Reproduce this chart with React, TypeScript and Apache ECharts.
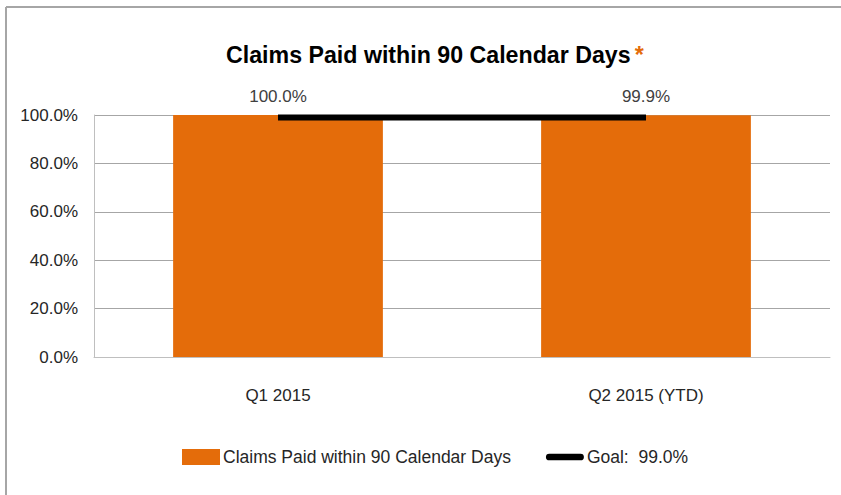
import React, { useEffect, useRef } from "react";
import * as echarts from "echarts";

const categories = ["Q1 2015", "Q2 2015 (YTD)"];
const claimsValues = [100.0, 99.9];
const goalValues = [99.0, 99.0];
const yTicks = [0, 20, 40, 60, 80, 100];

const FONT = "'Liberation Sans', Arial, sans-serif";

export default function App() {
  const ref = useRef<HTMLDivElement>(null);
  useEffect(() => {
    if (!ref.current) return;
    const chart = echarts.init(ref.current, null, { renderer: "svg" });
    chart.setOption({
      animation: false,
      backgroundColor: "#ffffff",
      textStyle: { fontFamily: FONT },
      title: {
        text: "{a|Claims Paid within 90 Calendar Days}{b|*}",
        left: 221,
        top: 38,
        textStyle: {
          rich: {
            a: { fontFamily: FONT, fontSize: 23.2, fontWeight: "bold", color: "#000000" },
            b: { fontFamily: FONT, fontSize: 23.2, fontWeight: "bold", color: "#e46c0a", verticalAlign: "top", padding: [0, 0, 0, 4] },
          },
        },
      },
      grid: { left: 94, right: 11, top: 115, bottom: 138, containLabel: false },
      xAxis: {
        type: "category",
        data: categories,
        axisLine: { lineStyle: { color: "#bfbfbf", width: 1 } },
        axisTick: { show: false },
        axisLabel: { color: "#262626", fontSize: 17, fontFamily: FONT, margin: 30 },
      },
      yAxis: {
        type: "value",
        min: yTicks[0],
        max: yTicks[yTicks.length - 1],
        interval: 20,
        axisLine: { show: true, lineStyle: { color: "#bfbfbf" } },
        axisTick: { show: false },
        splitLine: { lineStyle: { color: "#a6a6a6", width: 1 } },
        axisLabel: {
          color: "#262626",
          fontSize: 17,
          fontFamily: FONT,
          margin: 16,
          formatter: (v: number) => v.toFixed(1) + "%",
        },
      },
      legend: {
        left: 177,
        top: 443,
        itemWidth: 38,
        itemHeight: 16,
        itemGap: 35,
        textStyle: { color: "#262626", fontSize: 17.5, fontFamily: FONT, padding: [0, 0, 0, -2] },
        data: [
          { name: "Claims Paid within 90 Calendar Days", icon: "rect" },
          { name: "Goal:  99.0%", icon: "path://M3,0 H31 A3,3 0 0 1 31,6 H3 A3,3 0 0 1 3,0 Z" },
        ],
      },
      series: [
        {
          name: "Claims Paid within 90 Calendar Days",
          type: "bar",
          data: claimsValues,
          barWidth: "57%",
          itemStyle: { color: "#e46c0a" },
          label: {
            show: true,
            position: "top",
            distance: 10,
            color: "#404040",
            fontSize: 17,
            fontFamily: FONT,
            formatter: (p: any) => Number(p.value).toFixed(1) + "%",
          },
        },
        {
          name: "Goal:  99.0%",
          type: "line",
          data: goalValues,
          symbol: "none",
          lineStyle: { color: "#000000", width: 6 },
          itemStyle: { color: "#000000" },
          z: 5,
        },
      ],
      graphic: [
        { type: "line", shape: { x1: 6, y1: 7, x2: 841, y2: 7 }, style: { stroke: "#a6a6a6", lineWidth: 2 } },
        { type: "line", shape: { x1: 6, y1: 7, x2: 6, y2: 495 }, style: { stroke: "#a6a6a6", lineWidth: 2 } },
      ],
    });
    return () => chart.dispose();
  }, []);
  return (
    <div
      ref={ref}
      style={{ position: "absolute", left: 0, top: 0, width: 841, height: 495 }}
    />
  );
}
